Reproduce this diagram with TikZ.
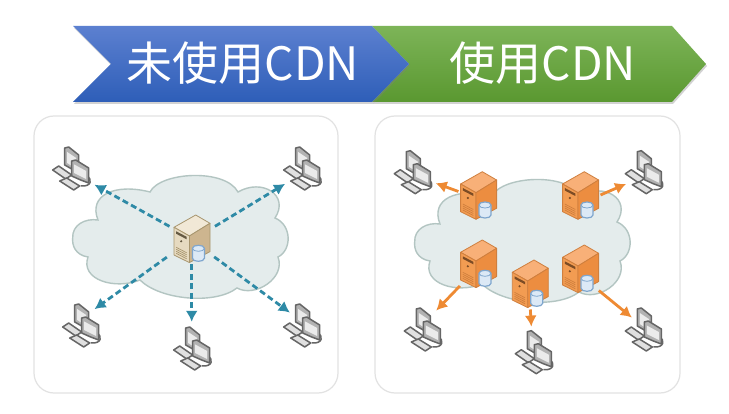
\documentclass[tikz,border=0pt]{standalone}
\usepackage{fontspec}
\setmainfont{Noto Sans CJK SC}
\usepackage{xcolor}
\usetikzlibrary{arrows.meta,shadows,positioning}

\definecolor{paneledge}{HTML}{E2E2E2}
\definecolor{cloudfill}{HTML}{E4ECEC}
\definecolor{cloudedge}{HTML}{B3C5C2}
\definecolor{teallink}{HTML}{2E8AA6}
\definecolor{orangelink}{HTML}{EE8A33}
\definecolor{pcedge}{HTML}{666666}
\definecolor{drumfill}{HTML}{DCE9F6}
\definecolor{drumedge}{HTML}{7FA6CE}
\definecolor{bluetop}{HTML}{5C80D0}
\definecolor{bluebottom}{HTML}{2E5EB8}
\definecolor{greentop}{HTML}{7DB458}
\definecolor{greenbottom}{HTML}{5A9830}
\definecolor{beigetop}{HTML}{F1E8D6}
\definecolor{beigefront}{HTML}{E6DAC0}
\definecolor{beigeside}{HTML}{CDB58F}
\definecolor{beigeedge}{HTML}{A8966F}
\definecolor{orangetop}{HTML}{F8B078}
\definecolor{orangefront}{HTML}{F29C52}
\definecolor{orangeside}{HTML}{EC8D40}
\definecolor{orangeedge}{HTML}{CF7F3E}

\tikzset{
    panelbox/.style={draw=paneledge, line width=1.2pt, fill=white, rounded corners=20pt},
    bannertext/.style={text=white, inner sep=0pt, font=\fontsize{46}{50}\selectfont},
    bannershade/.style={top color=#1top, bottom color=#1bottom,
        drop shadow={shadow xshift=1pt, shadow yshift=-2pt, opacity=0.35}},
    hubspot/.style={circle, minimum size=40pt, inner sep=0pt},
    pcspot/.style={circle, minimum size=32pt, inner sep=0pt},
    tealarrow/.style={draw=teallink, line width=2.8pt, dash pattern=on 6pt off 3.5pt,
        -{Latex[length=11pt,width=12pt]}},
    orangearrow/.style={draw=orangelink, line width=2.8pt,
        -{Latex[length=11pt,width=12pt]}},
    pics/netcloud/.style={code={
        \draw[fill=cloudfill, draw=cloudedge, line width=1.4pt]
            (72.7,238) .. controls (72,225) and (85,218) .. (98,220)
            .. controls (88,195) and (115,183) .. (150,192)
            .. controls (160,172) and (225,168) .. (238,192)
            .. controls (262,178) and (290,195) .. (275,218)
            .. controls (292,225) and (292,250) .. (278,257)
            .. controls (286,278) and (255,298) .. (237,288)
            .. controls (215,305) and (160,300) .. (140,280)
            .. controls (115,290) and (80,280) .. (88,257)
            .. controls (75,255) and (72,245) .. (72.7,238) -- cycle;
    }},
    pics/netpc/.style={code={
        \begin{scope}[draw=pcedge, line width=1.5pt, line join=round]
            % cable
            \draw[fill=none] (16,8) .. controls (22,11) and (21,19) .. (10,18);
            % rear screen
            \draw[fill=black!30] (-6,-20) -- (-2,-21) -- (8,-13) -- (8,5) -- (-6,-3) -- cycle;
            \fill[black!8] (-3.5,-16) -- (5.5,-10) -- (5.5,1) -- (-3.5,-5) -- cycle;
            % front screen
            \draw[fill=black!30] (1,-7) -- (5,-8) -- (18,0) -- (18,15) -- (10,12) -- (1,8) -- cycle;
            \fill[black!8] (3.5,-3.5) -- (15.5,3) -- (15.5,11) -- (3.5,5) -- cycle;
            % keyboards
            \draw[fill=black!12] (-18,2) -- (-12,-2) -- (1,7) -- (-5,11) -- cycle;
            \draw[fill=black!12] (-11,13) -- (-4,10) -- (9,18) -- (3,22) -- cycle;
        \end{scope}
    }},
    pics/netserver/.style={code={
        \draw[fill=#1top, draw=#1edge, line width=0.8pt, line join=round] (4,-23.3) -- (-17.7,-11) -- (-2.3,-2.3) -- (18.3,-15) -- cycle;
        \draw[fill=#1front, draw=#1edge, line width=0.8pt, line join=round] (-17.7,-11) -- (-2.3,-2.3) -- (-2.3,24.3) -- (-17.7,16.7) -- cycle;
        \draw[fill=#1side, draw=#1edge, line width=0.8pt, line join=round] (-2.3,-2.3) -- (18.3,-15) -- (18.3,13.3) -- (-2.3,24.3) -- cycle;
        % front panel
        \fill[#1edge!60!black] (-15.5,-7) -- (-5,-1.5) -- (-5,1) -- (-15.5,-4.5) -- cycle;
        \fill[#1edge!60!black] (-10.5,3) circle (1.2pt);
        \foreach \k in {0,2,4,6}
            \draw[#1edge, line width=0.7pt] (-15.5,9+\k) -- (-5,14.5+\k);
        % drum
        \draw[fill=drumfill, draw=drumedge, line width=1.2pt] (0.7,10) -- (0.7,20)
            .. controls (0.7,24) and (12.7,24) .. (12.7,20) -- (12.7,10)
            .. controls (12.7,6) and (0.7,6) .. (0.7,10) -- cycle;
        \draw[drumedge, line width=0.8pt] (0.7,10) .. controls (0.7,14) and (12.7,14) .. (12.7,10);
    }},
}

\begin{document}
\begin{tikzpicture}[x=1pt, y=-1pt]
    \useasboundingbox[fill=white] (0,0) rectangle (729,414);

    % Banners
    \path[bannershade=green] (372,26) -- (672,26) -- (706,64) -- (672,102) -- (372,102) -- (409,64) -- cycle;
    \path[bannershade=blue] (73,26) -- (372,26) -- (409,64) -- (372,102) -- (73,102) -- (111,64) -- cycle;
    \node[bannertext] (plainlabel) at (243,63) {未使用CDN};
    \node[bannertext] (cdnlabel) at (543,63) {使用CDN};

    % Panels
    \draw[panelbox] (34,116) rectangle (338,393);
    \draw[panelbox] (375,116) rectangle (680,393);

    % Clouds
    \pic at (0,0) {netcloud};
    \pic at (342,4) {netcloud};

    % Left side, one server
    \node[hubspot] (origin) at (191.7,238.3) {};
    \node[pcspot] (pcA) at (70.7,168) {};
    \node[pcspot] (pcB) at (301.7,168) {};
    \node[pcspot] (pcC) at (80.7,325) {};
    \node[pcspot] (pcD) at (191.7,348) {};
    \node[pcspot] (pcE) at (301.7,325) {};
    \pic at (pcA) {netpc};
    \pic at (pcB) {netpc};
    \pic at (pcC) {netpc};
    \pic at (pcD) {netpc};
    \pic at (pcE) {netpc};

    \draw[tealarrow, shorten <=5pt, shorten >=13pt] (origin.152) -- (pcA.-40);
    \draw[tealarrow, shorten <=6pt, shorten >=7pt] (origin.26) -- (pcB.229);
    \draw[tealarrow, shorten <=11pt, shorten >=5pt] (origin.218) -- (pcC.53);
    \draw[tealarrow, shorten <=6pt, shorten >=10pt] (origin.270) -- (pcD.90);
    \draw[tealarrow, shorten <=9pt, shorten >=1pt] (origin.319) -- (pcE.133);
    \pic at (origin) {netserver=beige};

    % Right side, edge servers
    \node[hubspot] (edgeA) at (478.3,195) {};
    \node[hubspot] (edgeB) at (580.3,195) {};
    \node[hubspot] (edgeC) at (478.3,263.3) {};
    \node[hubspot] (edgeD) at (530,283.3) {};
    \node[hubspot] (edgeE) at (580.3,268.3) {};
    \node[pcspot] (pcF) at (412.3,171.7) {};
    \node[pcspot] (pcG) at (643.3,171.7) {};
    \node[pcspot] (pcH) at (422.3,329) {};
    \node[pcspot] (pcI) at (533.3,351.7) {};
    \node[pcspot] (pcJ) at (643.3,329) {};
    \pic at (pcF) {netpc};
    \pic at (pcG) {netpc};
    \pic at (pcH) {netpc};
    \pic at (pcI) {netpc};
    \pic at (pcJ) {netpc};

    \draw[orangearrow, shorten >=10pt] (edgeA.170) -- (pcF.-30);
    \draw[orangearrow, shorten >=5pt] (edgeB.0) -- (pcG.219);
    \draw[orangearrow, shorten <=9pt, shorten >=7pt] (edgeC.233) -- (pcH.56);
    \draw[orangearrow, shorten <=6pt, shorten >=9pt] (edgeD.270) -- (pcI.95);
    \draw[orangearrow, shorten <=9pt] (edgeE.-55) -- (pcJ.135);
    \pic at (edgeA) {netserver=orange};
    \pic at (edgeB) {netserver=orange};
    \pic at (edgeC) {netserver=orange};
    \pic at (edgeD) {netserver=orange};
    \pic at (edgeE) {netserver=orange};
\end{tikzpicture}
\end{document}
